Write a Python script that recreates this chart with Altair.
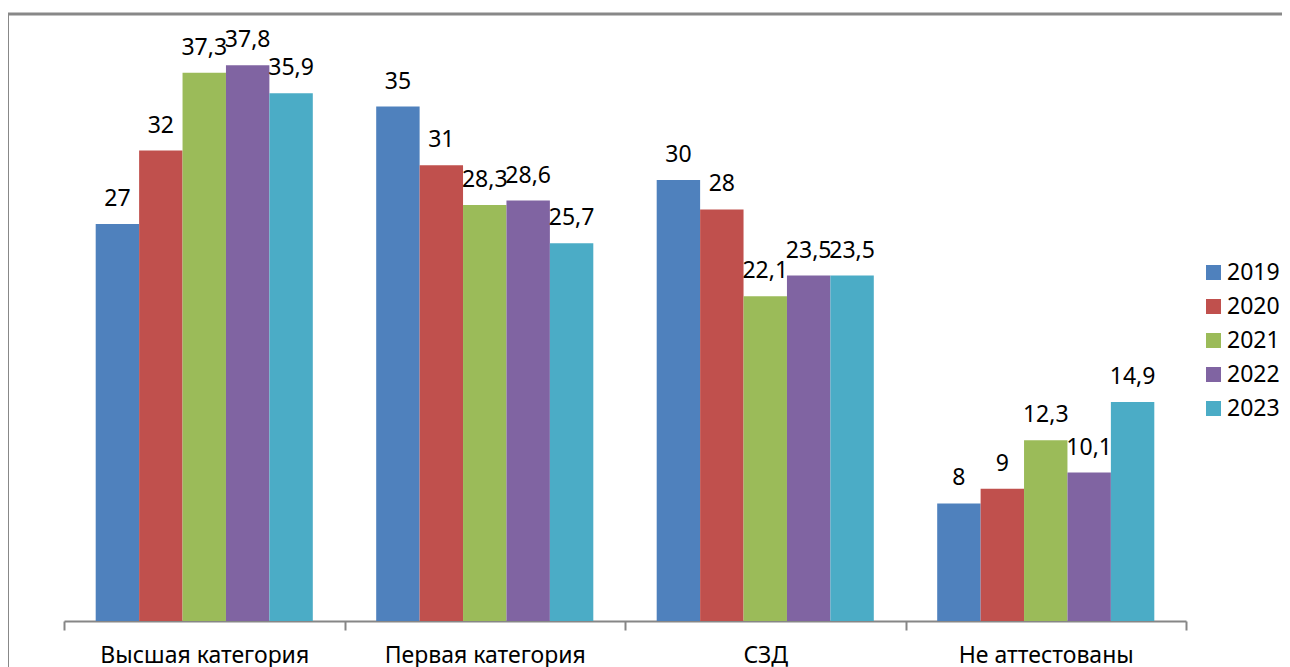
import altair as alt
import pandas as pd

categories = ["Высшая категория", "Первая категория", "СЗД", "Не аттестованы"]
years = ["2019", "2020", "2021", "2022", "2023"]
values_2019 = [27, 35, 30, 8]
values_2020 = [32, 31, 28, 9]
values_2021 = [37.3, 28.3, 22.1, 12.3]
values_2022 = [37.8, 28.6, 23.5, 10.1]
values_2023 = [35.9, 25.7, 23.5, 14.9]
colors = ["#4F81BD", "#C0504D", "#9BBB59", "#8064A2", "#4BACC6"]

series = [values_2019, values_2020, values_2021, values_2022, values_2023]
rows = []
for y, vals in zip(years, series):
    for c, v in zip(categories, vals):
        rows.append({"category": c, "year": y, "value": v})
df = pd.DataFrame(rows)

FONT = "Noto Sans"
FS = 23

x = alt.X("category:N", sort=categories, title=None,
          scale=alt.Scale(paddingInner=0, paddingOuter=0),
          axis=alt.Axis(labelAngle=0, labelFontSize=FS, labelFont=FONT, labelColor="black",
                        labelLimit=0,
                        domainColor="#868686", domainWidth=2, tickColor="#868686",
                        tickWidth=2, tickSize=9, tickBand="extent", labelPadding=14))
xo = alt.XOffset("year:N", sort=years, scale=alt.Scale(paddingInner=0, paddingOuter=0.73))
y = alt.Y("value:Q", axis=None, scale=alt.Scale(domain=[0, 40], nice=False))

base = alt.Chart(df)

bars = base.mark_bar().encode(
    x=x, xOffset=xo, y=y,
    color=alt.Color("year:N", sort=years,
                    scale=alt.Scale(domain=years, range=colors),
                    legend=alt.Legend(title=None, orient="none", legendX=1138, legendY=228,
                                      labelFontSize=FS, labelFont=FONT, labelColor="black",
                                      labelLimit=0,
                                      symbolType="square", symbolSize=225, symbolStrokeWidth=0,
                                      labelOffset=2, rowPadding=10)),
)

labels = base.transform_calculate(
    lbl="replace(toString(datum.value), '.', ',')"
).mark_text(font=FONT, fontSize=FS, baseline="alphabetic", dy=-18, color="black").encode(
    x=x, xOffset=xo, y=y, text="lbl:N"
)

border = alt.Chart(pd.DataFrame({"a": [0]})).mark_rect(
    fill=None, stroke="#888888", strokeWidth=3
).encode(
    x=alt.value(-56.5), x2=alt.value(1400), y=alt.value(-19), y2=alt.value(800)
)

chart = alt.layer(border, bars, labels).properties(
    width=1122, height=588,
    autosize=alt.AutoSizeParams(type="none"),
    padding={"left": 56, "top": 25, "right": 96, "bottom": 50},
).configure_view(stroke=None)

chart.save("out.html", embed_options={"renderer": "svg", "actions": False})
